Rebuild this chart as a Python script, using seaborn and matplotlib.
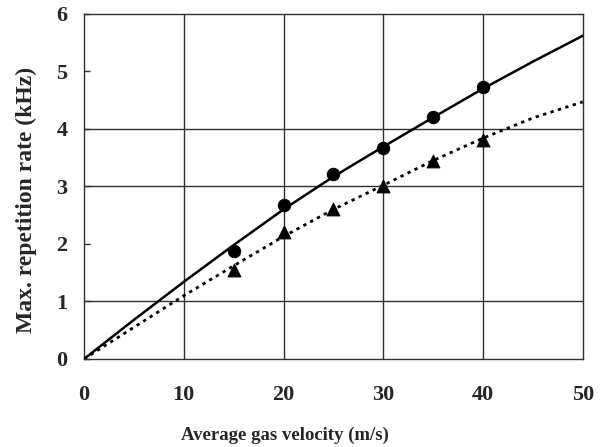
import matplotlib
matplotlib.use("Agg")
import matplotlib.pyplot as plt
import seaborn as sns
import pandas as pd

# fitted curves
curve_x = [0, 5, 10, 15, 20, 25, 30, 35, 40, 45, 50]
solid_y = [0, 0.68, 1.34, 1.98, 2.60, 3.17, 3.69, 4.20, 4.70, 5.17, 5.62]
dotted_y = [0, 0.55, 1.10, 1.62, 2.13, 2.60, 3.02, 3.45, 3.84, 4.19, 4.47]

# measured points
meas_x = [15, 20, 25, 30, 35, 40]
circle_y = [1.87, 2.68, 3.22, 3.67, 4.21, 4.72]
triangle_y = [1.55, 2.21, 2.60, 3.00, 3.44, 3.81]

x_ticks = [0, 10, 20, 30, 40, 50]
y_ticks = [0, 1, 2, 3, 4, 5, 6]
y_grid = [1, 3, 4]

sns.set_theme(style="white")
plt.rcParams['font.family'] = ['Liberation Serif', 'DejaVu Serif']
plt.rcParams['font.weight'] = 'bold'

fig = plt.figure(figsize=(6.09, 4.47), dpi=100)
ax = fig.add_axes([0.138, 0.197, 0.819, 0.772])

grid_col = '#303030'
for gx in x_ticks[1:-1]:
    ax.axvline(gx, color=grid_col, lw=1.0, zorder=1)
for gy in y_grid:
    ax.axhline(gy, color=grid_col, lw=1.0, zorder=1)

df_s = pd.DataFrame({'x': curve_x, 'y': solid_y})
df_d = pd.DataFrame({'x': curve_x, 'y': dotted_y})
sns.lineplot(data=df_s, x='x', y='y', ax=ax, color='black', lw=1.8, zorder=3)
sns.lineplot(data=df_d, x='x', y='y', ax=ax, color='black', lw=2.0,
             linestyle=(0, (1.2, 1.6)), zorder=3)

df_c = pd.DataFrame({'x': meas_x, 'y': circle_y})
df_t = pd.DataFrame({'x': meas_x, 'y': triangle_y})
sns.scatterplot(data=df_c, x='x', y='y', ax=ax, marker='o', s=80,
                color='black', edgecolor='black', zorder=4)
sns.scatterplot(data=df_t, x='x', y='y', ax=ax, marker='^', s=85,
                color='black', edgecolor='black', zorder=4)

ax.set_xlim(0, 50)
ax.set_ylim(0, 6)
ax.set_xticks(x_ticks)
ax.set_yticks(y_ticks)
ax.set_xticklabels([str(v) for v in x_ticks], fontsize=16, fontweight='bold')
ax.set_yticklabels([str(v) for v in y_ticks], fontsize=16, fontweight='bold')
ax.tick_params(axis='x', length=0, pad=19)
ax.tick_params(axis='y', direction='in', length=4, width=1, color=grid_col, pad=12, left=True)

for sp in ax.spines.values():
    sp.set_color(grid_col)
    sp.set_linewidth(1.0)
    sp.set_visible(True)

ax.set_xlabel('Average gas velocity (m/s)', fontsize=13.5, fontweight='bold')
ax.set_ylabel('Max. repetition rate (kHz)', fontsize=17, fontweight='bold')
ax.xaxis.set_label_coords(0.403, -0.195)
ax.yaxis.set_label_coords(-0.094, 0.46)

fig.savefig('out.png', dpi=100, facecolor='white')
